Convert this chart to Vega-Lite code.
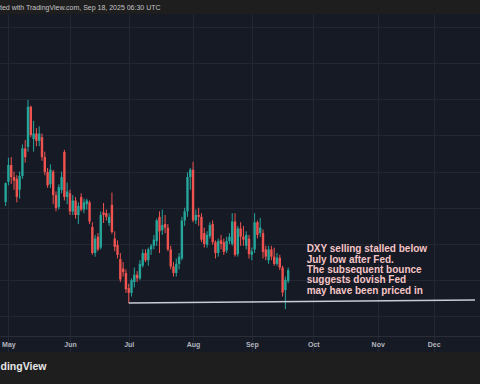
{
  "$schema": "https://vega.github.io/schema/vega-lite/v6.json",
  "width": 480,
  "height": 338,
  "autosize": {"type": "none"},
  "padding": {"left": 0, "top": 14, "right": 0, "bottom": 32},
  "background": "#1e1e1f",
  "title": {
    "text": "ted with TradingView.com, Sep 18, 2025 06:30 UTC",
    "anchor": "start",
    "frame": "group",
    "font": "Liberation Sans",
    "fontSize": 7,
    "fontWeight": "normal",
    "color": "#c4c4c6",
    "offset": 3
  },
  "config": {
    "view": {"fill": "#161a25", "stroke": null},
    "axis": {"gridColor": "#232734", "gridWidth": 1}
  },
  "datasets": {
    "candles": [
      {"i": -1, "o": 99.16, "h": 99.70, "l": 99.05, "c": 99.68},
      {"i": 0, "o": 99.72, "h": 100.38, "l": 99.62, "c": 100.18},
      {"i": 1, "o": 100.18, "h": 100.40, "l": 99.66, "c": 99.85},
      {"i": 2, "o": 99.85, "h": 100.00, "l": 99.50, "c": 99.75},
      {"i": 3, "o": 99.80, "h": 99.90, "l": 99.15, "c": 99.30},
      {"i": 4, "o": 99.50, "h": 100.00, "l": 99.25, "c": 99.88},
      {"i": 5, "o": 99.88, "h": 100.75, "l": 99.80, "c": 100.64},
      {"i": 6, "o": 100.64, "h": 100.87, "l": 100.25, "c": 100.40},
      {"i": 7, "o": 100.68, "h": 101.98, "l": 100.55, "c": 101.79},
      {"i": 8, "o": 101.79, "h": 101.82, "l": 100.95, "c": 101.01},
      {"i": 9, "o": 100.90, "h": 101.40, "l": 100.55, "c": 101.05},
      {"i": 10, "o": 101.05, "h": 101.20, "l": 100.70, "c": 100.85},
      {"i": 11, "o": 100.85, "h": 101.25, "l": 100.70, "c": 101.05},
      {"i": 12, "o": 100.95, "h": 101.05, "l": 100.30, "c": 100.40},
      {"i": 13, "o": 100.40, "h": 100.55, "l": 99.90, "c": 99.99},
      {"i": 14, "o": 99.99, "h": 100.10, "l": 99.55, "c": 99.62},
      {"i": 15, "o": 99.65, "h": 100.20, "l": 99.55, "c": 100.05},
      {"i": 16, "o": 100.00, "h": 100.05, "l": 99.10, "c": 99.35},
      {"i": 17, "o": 99.35, "h": 99.45, "l": 98.90, "c": 98.99},
      {"i": 18, "o": 99.02, "h": 99.65, "l": 98.95, "c": 99.57},
      {"i": 19, "o": 99.49, "h": 100.00, "l": 99.40, "c": 99.85},
      {"i": 20, "o": 100.54, "h": 100.60, "l": 99.20, "c": 99.30},
      {"i": 21, "o": 99.30, "h": 99.70, "l": 99.10, "c": 99.45},
      {"i": 22, "o": 99.40, "h": 99.50, "l": 98.80, "c": 98.90},
      {"i": 23, "o": 98.90, "h": 99.35, "l": 98.80, "c": 99.20},
      {"i": 24, "o": 99.20, "h": 99.30, "l": 98.70, "c": 98.80},
      {"i": 25, "o": 98.80, "h": 99.15, "l": 98.55, "c": 99.05},
      {"i": 26, "o": 99.30, "h": 99.40, "l": 98.90, "c": 98.95},
      {"i": 27, "o": 98.95, "h": 99.25, "l": 98.85, "c": 99.15},
      {"i": 28, "o": 99.10, "h": 99.25, "l": 98.95, "c": 99.20},
      {"i": 29, "o": 99.15, "h": 99.20, "l": 98.55, "c": 98.62},
      {"i": 30, "o": 98.47, "h": 98.60, "l": 97.70, "c": 97.75},
      {"i": 31, "o": 97.75, "h": 98.25, "l": 97.65, "c": 98.15},
      {"i": 32, "o": 98.20, "h": 98.30, "l": 97.80, "c": 97.85},
      {"i": 33, "o": 97.90, "h": 98.90, "l": 97.85, "c": 98.80},
      {"i": 34, "o": 98.87, "h": 99.13, "l": 98.58, "c": 98.80},
      {"i": 35, "o": 98.85, "h": 98.95, "l": 98.65, "c": 98.75},
      {"i": 36, "o": 98.58, "h": 98.85, "l": 98.50, "c": 98.75},
      {"i": 37, "o": 99.08, "h": 99.42, "l": 98.28, "c": 98.33},
      {"i": 38, "o": 98.15, "h": 98.35, "l": 97.80, "c": 97.92},
      {"i": 39, "o": 97.97, "h": 98.10, "l": 97.60, "c": 97.70},
      {"i": 40, "o": 97.58, "h": 97.75, "l": 96.95, "c": 97.02},
      {"i": 41, "o": 97.32, "h": 97.50, "l": 97.10, "c": 97.22},
      {"i": 42, "o": 97.20, "h": 97.30, "l": 96.65, "c": 96.75},
      {"i": 43, "o": 96.78, "h": 96.90, "l": 96.37, "c": 96.65},
      {"i": 44, "o": 96.65, "h": 97.05, "l": 96.55, "c": 97.00},
      {"i": 45, "o": 96.95, "h": 97.35, "l": 96.80, "c": 97.15},
      {"i": 46, "o": 97.15, "h": 97.25, "l": 96.95, "c": 97.05},
      {"i": 47, "o": 97.05, "h": 97.55, "l": 97.00, "c": 97.45},
      {"i": 48, "o": 97.40, "h": 97.85, "l": 97.35, "c": 97.75},
      {"i": 49, "o": 97.75, "h": 97.85, "l": 97.50, "c": 97.55},
      {"i": 50, "o": 97.55, "h": 97.90, "l": 97.40, "c": 97.85},
      {"i": 51, "o": 97.85, "h": 98.00, "l": 97.70, "c": 97.95},
      {"i": 52, "o": 97.95, "h": 98.25, "l": 97.85, "c": 98.12},
      {"i": 53, "o": 98.08, "h": 98.70, "l": 97.95, "c": 98.65},
      {"i": 54, "o": 98.75, "h": 98.90, "l": 97.75, "c": 98.35},
      {"i": 55, "o": 98.38, "h": 98.95, "l": 98.25, "c": 98.52},
      {"i": 56, "o": 98.55, "h": 98.80, "l": 98.30, "c": 98.45},
      {"i": 57, "o": 98.45, "h": 98.55, "l": 97.80, "c": 97.85},
      {"i": 58, "o": 97.85, "h": 97.95, "l": 97.30, "c": 97.38},
      {"i": 59, "o": 97.38, "h": 97.50, "l": 97.10, "c": 97.20},
      {"i": 60, "o": 97.20, "h": 97.60, "l": 97.10, "c": 97.45},
      {"i": 61, "o": 97.45, "h": 97.75, "l": 97.30, "c": 97.65},
      {"i": 62, "o": 97.60, "h": 98.75, "l": 97.55, "c": 98.65},
      {"i": 63, "o": 98.65, "h": 99.00, "l": 98.50, "c": 98.90},
      {"i": 64, "o": 98.90, "h": 99.98, "l": 98.75, "c": 99.85},
      {"i": 65, "o": 99.85, "h": 100.10, "l": 99.50, "c": 100.05},
      {"i": 66, "o": 100.05, "h": 100.27, "l": 98.60, "c": 98.65},
      {"i": 67, "o": 98.65, "h": 98.95, "l": 98.55, "c": 98.80},
      {"i": 68, "o": 98.80, "h": 99.00, "l": 98.50, "c": 98.75},
      {"i": 69, "o": 98.75, "h": 98.85, "l": 98.05, "c": 98.12},
      {"i": 70, "o": 98.30, "h": 98.45, "l": 97.90, "c": 98.00},
      {"i": 71, "o": 97.98, "h": 98.35, "l": 97.90, "c": 98.25},
      {"i": 72, "o": 98.22, "h": 98.60, "l": 98.15, "c": 98.52},
      {"i": 73, "o": 98.55, "h": 98.65, "l": 97.98, "c": 98.05},
      {"i": 74, "o": 98.05, "h": 98.10, "l": 97.60, "c": 97.75},
      {"i": 75, "o": 97.75, "h": 98.15, "l": 97.65, "c": 98.08},
      {"i": 76, "o": 98.10, "h": 98.25, "l": 97.85, "c": 98.00},
      {"i": 77, "o": 98.05, "h": 98.15, "l": 97.70, "c": 97.78},
      {"i": 78, "o": 97.82, "h": 98.20, "l": 97.75, "c": 98.08},
      {"i": 79, "o": 98.08, "h": 98.30, "l": 98.00, "c": 98.20},
      {"i": 80, "o": 98.00, "h": 98.85, "l": 97.95, "c": 98.62},
      {"i": 81, "o": 98.62, "h": 98.85, "l": 97.65, "c": 97.70},
      {"i": 82, "o": 97.72, "h": 98.50, "l": 97.65, "c": 98.43},
      {"i": 83, "o": 98.43, "h": 98.60, "l": 97.95, "c": 98.20},
      {"i": 84, "o": 98.20, "h": 98.50, "l": 97.95, "c": 98.12},
      {"i": 85, "o": 97.95, "h": 98.35, "l": 97.85, "c": 98.25},
      {"i": 86, "o": 98.15, "h": 98.25, "l": 97.60, "c": 97.72},
      {"i": 87, "o": 97.70, "h": 97.90, "l": 97.55, "c": 97.80},
      {"i": 88, "o": 97.85, "h": 98.85, "l": 97.75, "c": 98.60},
      {"i": 89, "o": 98.60, "h": 98.65, "l": 98.15, "c": 98.25},
      {"i": 90, "o": 98.30, "h": 98.72, "l": 98.19, "c": 98.45},
      {"i": 91, "o": 98.30, "h": 98.40, "l": 97.60, "c": 97.78},
      {"i": 92, "o": 97.85, "h": 97.95, "l": 97.55, "c": 97.65},
      {"i": 93, "o": 97.55, "h": 97.95, "l": 97.45, "c": 97.85},
      {"i": 94, "o": 97.85, "h": 97.95, "l": 97.55, "c": 97.65},
      {"i": 95, "o": 97.65, "h": 97.90, "l": 97.40, "c": 97.45},
      {"i": 96, "o": 97.45, "h": 97.75, "l": 97.40, "c": 97.62},
      {"i": 97, "o": 97.62, "h": 97.70, "l": 97.28, "c": 97.35},
      {"i": 98, "o": 97.35, "h": 97.40, "l": 96.55, "c": 96.66},
      {"i": 99, "o": 96.73, "h": 97.10, "l": 96.20, "c": 97.01},
      {"i": 100, "o": 96.98, "h": 97.35, "l": 96.92, "c": 97.28}
    ],
    "trend": [
      {"i": 43, "i2": 166.78, "p": 96.37, "p2": 96.45}
    ],
    "note": [
      {"i": 106.6, "p": 97.77, "t": "DXY selling stalled below"},
      {"i": 106.6, "p": 97.486, "t": "July low after Fed."},
      {"i": 106.6, "p": 97.201, "t": "The subsequent bounce"},
      {"i": 106.6, "p": 96.917, "t": "suggests dovish Fed"},
      {"i": 106.6, "p": 96.632, "t": "may have been priced in"}
    ]
  },
  "encoding": {
    "x": {
      "field": "i",
      "type": "quantitative",
      "scale": {"domain": [-1.225, 166.78], "nice": false, "zero": false},
      "axis": {
        "title": "dingView",
        "titleAnchor": "start",
        "titleAlign": "left",
        "titleFont": "Liberation Sans",
        "titleFontSize": 10.5,
        "titleFontWeight": "bold",
        "titleColor": "#e6e6e6",
        "titlePadding": 14,
        "offset": -16,
        "values": [0, 22, 43, 66, 87, 109, 132, 152],
        "labelExpr": "datum.value == 0 ? 'May' : datum.value == 22 ? 'Jun' : datum.value == 43 ? 'Jul' : datum.value == 66 ? 'Aug' : datum.value == 87 ? 'Sep' : datum.value == 109 ? 'Oct' : datum.value == 132 ? 'Nov' : 'Dec'",
        "labelFlush": false,
        "labelOverlap": false,
        "labelColor": "#b2b5be",
        "labelFont": "Liberation Sans",
        "labelFontSize": 7,
        "labelFontWeight": "bold",
        "labelPadding": 4,
        "ticks": false,
        "domainColor": "#2a2e39",
        "grid": true
      }
    }
  },
  "layer": [
    {
      "data": {"name": "candles"},
      "mark": {"type": "rule", "strokeWidth": 1},
      "encoding": {
        "y": {
          "field": "l",
          "type": "quantitative",
          "scale": {"domain": [95.016, 104.353], "nice": false, "zero": false},
          "axis": {
            "title": null,
            "labels": false,
            "ticks": false,
            "domain": false,
            "grid": true,
            "values": [96, 97, 98, 99, 100, 101, 102, 103, 104]
          }
        },
        "y2": {"field": "h"},
        "color": {
          "condition": {"test": "datum.c >= datum.o", "value": "#26a69a"},
          "value": "#ef5350"
        }
      }
    },
    {
      "data": {"name": "candles"},
      "mark": {"type": "bar", "size": 2.4},
      "encoding": {
        "y": {"field": "o", "type": "quantitative"},
        "y2": {"field": "c"},
        "color": {
          "condition": {"test": "datum.c >= datum.o", "value": "#26a69a"},
          "value": "#ef5350"
        }
      }
    },
    {
      "data": {"name": "trend"},
      "mark": {"type": "rule", "strokeWidth": 1.5, "color": "#c9ccd4"},
      "encoding": {
        "x2": {"field": "i2"},
        "y": {"field": "p", "type": "quantitative"},
        "y2": {"field": "p2"}
      }
    },
    {
      "data": {"name": "note"},
      "mark": {
        "type": "text",
        "align": "left",
        "baseline": "alphabetic",
        "font": "Liberation Sans",
        "fontSize": 10,
        "fontWeight": "bold",
        "color": "#f4c5c5"
      },
      "encoding": {
        "y": {"field": "p", "type": "quantitative"},
        "text": {"field": "t"}
      }
    }
  ]
}
